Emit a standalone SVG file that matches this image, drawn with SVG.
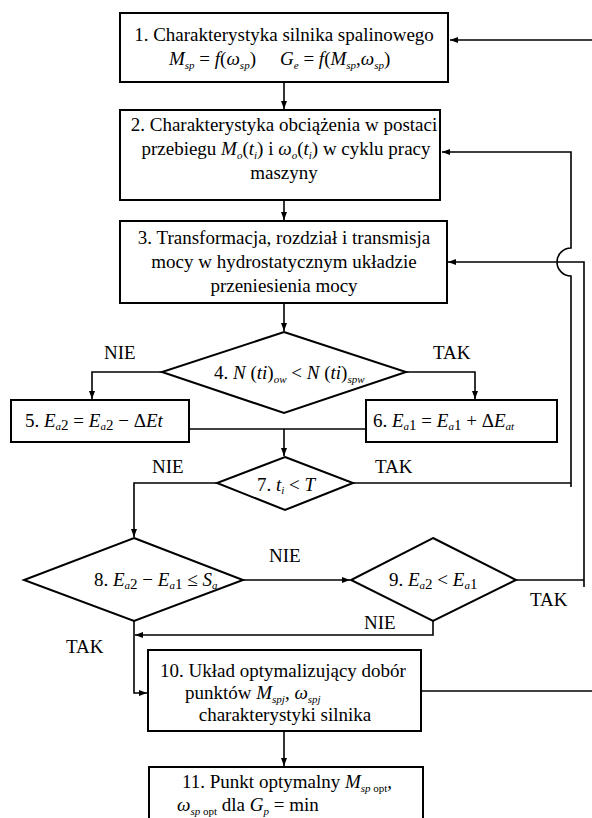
<svg xmlns="http://www.w3.org/2000/svg" width="592" height="818" viewBox="0 0 592 818">
<style>
.t{font-family:"Liberation Serif","Times New Roman",serif;font-size:19px;fill:#000}
.i{font-style:italic}
.s{font-size:11px;font-style:italic}
.n{font-size:15px}
.box{fill:#fff;stroke:#000;stroke-width:2}
.c{fill:none;stroke:#000;stroke-width:1.6}
.a{marker-end:url(#ah)}
</style>
<defs>
<marker id="ah" viewBox="0 0 8 6" refX="8" refY="3" markerWidth="8" markerHeight="6" markerUnits="userSpaceOnUse" orient="auto"><path d="M0,0 L8,3 L0,6 z" fill="#000"/></marker>
</defs>
<rect width="592" height="818" fill="#fff"/>
<g id="connectors">
<path class="c a" d="M284,82 V109"/>
<path class="c a" d="M284,200 V220"/>
<path class="c a" d="M284,303 V331"/>
<path class="c a" d="M162,372 H92 V399"/>
<path class="c a" d="M406,372 H475 V399"/>
<path class="c" d="M189,429 H366"/>
<path class="c a" d="M284,429 V456"/>
<path class="c a" d="M217,483 H134 V537"/>
<path class="c" d="M353,483 H571"/>
<path class="c a" d="M571,487 V276 A14,14 0 0 1 571,248 V152 H442"/>
<path class="c a" d="M243,580 H350"/>
<path class="c" d="M516,580 H584"/>
<path class="c a" d="M584,587 V262 H448"/>
<path class="c a" d="M433,621 V635 H135"/>
<path class="c a" d="M134,621 V693 H147"/>
<path class="c" d="M421,691 H592"/>
<path class="c a" d="M592,40 H450"/>
<path class="c a" d="M284,731 V766"/>
</g>
<g id="n1">
<rect class="box" x="120" y="13" width="328" height="69"/>
<text class="t" x="284" y="41" text-anchor="middle">1. Charakterystyka silnika spalinowego</text>
<text class="t" x="169" y="65"><tspan class="i">M</tspan><tspan class="s" dy="4">sp</tspan><tspan dy="-4"> = </tspan><tspan class="i">f</tspan>(<tspan class="i">ω</tspan><tspan class="s" dy="4">sp</tspan><tspan dy="-4">)</tspan></text>
<text class="t" x="280" y="65"><tspan class="i">G</tspan><tspan class="s" dy="4">e</tspan><tspan dy="-4"> = </tspan><tspan class="i">f</tspan>(<tspan class="i">M</tspan><tspan class="s" dy="4">sp</tspan><tspan dy="-4">,</tspan><tspan class="i">ω</tspan><tspan class="s" dy="4">sp</tspan><tspan dy="-4">)</tspan></text>
</g>
<g id="n2">
<rect class="box" x="120" y="110" width="320" height="90"/>
<text class="t" x="284" y="131" text-anchor="middle">2. Charakterystyka obciążenia w postaci</text>
<text class="t" x="286" y="155" text-anchor="middle">przebiegu <tspan class="i">M</tspan><tspan class="s" dy="4">o</tspan><tspan dy="-4">(</tspan><tspan class="i">t</tspan><tspan class="s" dy="4">i</tspan><tspan dy="-4">) i </tspan><tspan class="i">ω</tspan><tspan class="s" dy="4">o</tspan><tspan dy="-4">(</tspan><tspan class="i">t</tspan><tspan class="s" dy="4">i</tspan><tspan dy="-4">) w cyklu pracy</tspan></text>
<text class="t" x="284" y="179" text-anchor="middle">maszyny</text>
</g>
<g id="n3">
<rect class="box" x="120" y="221" width="327" height="82"/>
<text class="t" x="284" y="244" text-anchor="middle">3. Transformacja, rozdział i transmisja</text>
<text class="t" x="284" y="268" text-anchor="middle">mocy w hydrostatycznym układzie</text>
<text class="t" x="284" y="292" text-anchor="middle">przeniesienia mocy</text>
</g>
<g id="n4">
<path class="box" d="M284,332 L406,372 L284,413 L162,372 Z"/>
<text class="t" x="214" y="379">4. <tspan class="i">N</tspan> (<tspan class="i">ti</tspan>)<tspan class="s" dy="4">ow</tspan><tspan dy="-4"> &lt; </tspan><tspan class="i">N</tspan> (<tspan class="i">ti</tspan>)<tspan class="s" dy="4">spw</tspan></text>
</g>
<g id="n5">
<rect class="box" x="11" y="400" width="178" height="42"/>
<text class="t" x="25" y="427">5. <tspan class="i">E</tspan><tspan class="s" dy="3">a</tspan><tspan class="n">2</tspan><tspan dy="-3"> = </tspan><tspan class="i">E</tspan><tspan class="s" dy="3">a</tspan><tspan class="n">2</tspan><tspan dy="-3"> − Δ</tspan><tspan class="i">Et</tspan></text>
</g>
<g id="n6">
<rect class="box" x="366" y="400" width="191" height="42"/>
<text class="t" x="373" y="427">6. <tspan class="i">E</tspan><tspan class="s" dy="3">a</tspan><tspan class="n">1</tspan><tspan dy="-3"> = </tspan><tspan class="i">E</tspan><tspan class="s" dy="3">a</tspan><tspan class="n">1</tspan><tspan dy="-3"> + Δ</tspan><tspan class="i">E</tspan><tspan class="s" dy="3">at</tspan></text>
</g>
<g id="n7">
<path class="box" d="M285,457 L353,483 L285,510 L217,483 Z"/>
<text class="t" x="257" y="491">7. <tspan class="i">t</tspan><tspan class="s" dy="3">i</tspan><tspan dy="-3"> &lt; </tspan><tspan class="i">T</tspan></text>
</g>
<g id="n8">
<path class="box" d="M134,538 L243,580 L134,621 L24,580 Z"/>
<text class="t" x="94" y="586">8. <tspan class="i">E</tspan><tspan class="s" dy="3">a</tspan><tspan class="n">2</tspan><tspan dy="-3"> − </tspan><tspan class="i">E</tspan><tspan class="s" dy="3">a</tspan><tspan class="n">1</tspan><tspan dy="-3"> ≤ </tspan><tspan class="i">S</tspan><tspan class="s" dy="3">a</tspan></text>
</g>
<g id="n9">
<path class="box" d="M433,538 L516,580 L433,621 L351,580 Z"/>
<text class="t" x="389" y="586">9. <tspan class="i">E</tspan><tspan class="s" dy="3">a</tspan><tspan class="n">2</tspan><tspan dy="-3"> &lt; </tspan><tspan class="i">E</tspan><tspan class="s" dy="3">a</tspan><tspan class="n">1</tspan></text>
</g>
<g id="n10">
<rect class="box" x="148" y="650" width="273" height="81"/>
<text class="t" x="283" y="677" text-anchor="middle">10. Układ optymalizujący dobór</text>
<text class="t" x="185" y="699">punktów <tspan class="i">M</tspan><tspan class="s" dy="4">spj</tspan><tspan dy="-4">, </tspan><tspan class="i">ω</tspan><tspan class="s" dy="4">spj</tspan></text>
<text class="t" x="285" y="721" text-anchor="middle">charakterystyki silnika</text>
</g>
<g id="n11">
<rect class="box" x="149" y="767" width="274" height="80"/>
<text class="t" x="182" y="788">11. Punkt optymalny <tspan class="i">M</tspan><tspan class="s" dy="4">sp</tspan><tspan class="s" style="font-style:normal"> opt</tspan><tspan dy="-4">,</tspan></text>
<text class="t" x="177" y="811"><tspan class="i">ω</tspan><tspan class="s" dy="4">sp</tspan><tspan class="s" style="font-style:normal"> opt</tspan><tspan dy="-4"> dla </tspan><tspan class="i">G</tspan><tspan class="s" dy="4">p</tspan><tspan dy="-4"> = min</tspan></text>
</g>
<g id="labels">
<text class="t" x="104" y="359">NIE</text>
<text class="t" x="433" y="359">TAK</text>
<text class="t" x="152" y="473">NIE</text>
<text class="t" x="375" y="473">TAK</text>
<text class="t" x="269" y="562">NIE</text>
<text class="t" x="530" y="606">TAK</text>
<text class="t" x="364" y="629">NIE</text>
<text class="t" x="66" y="653">TAK</text>
</g>
</svg>
